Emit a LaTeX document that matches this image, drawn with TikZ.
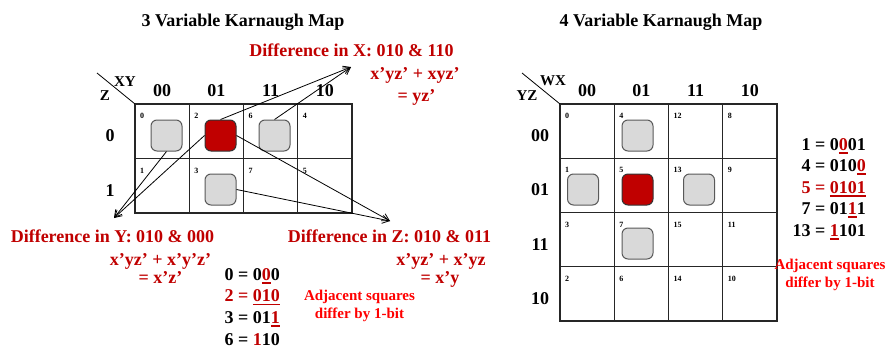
\documentclass[tikz,border=0pt]{standalone}
\usepackage{fontspec}
\setmainfont{Liberation Serif}
\usetikzlibrary{arrows.meta}
\definecolor{kRed}{RGB}{192, 0, 0}
\definecolor{noteRed}{RGB}{255, 0, 0}
\definecolor{boxGray}{RGB}{217, 217, 217}
\definecolor{boxEdge}{RGB}{89, 89, 89}
% red bit with a thick red rule under it
\newcommand{\redbit}[1]{\textcolor{kRed}{\setbox0\hbox{#1}\rlap{\rule[-3.6pt]{\wd0}{1.8pt}}\box0}}

\begin{document}
\begin{tikzpicture}[x=1pt, y=-1pt, >={Straight Barb[length=7pt, width=8pt]},
    maptitle/.style={anchor=base, inner sep=0pt, font=\bfseries\fontsize{18}{21}\selectfont},
    hdr/.style={anchor=base, inner sep=0pt, font=\bfseries\fontsize{18}{21}\selectfont},
    varlbl/.style={anchor=base, inner sep=0pt, font=\bfseries\fontsize{15}{17}\selectfont},
    idx/.style={anchor=base west, inner sep=0pt, font=\bfseries\fontsize{8}{9}\selectfont},
    diff/.style={anchor=base, inner sep=0pt, text=kRed, font=\bfseries\fontsize{18}{21}\selectfont},
    binln/.style={anchor=base east, inner sep=0pt, font=\bfseries\fontsize{18}{21}\selectfont},
    note/.style={align=center, inner sep=0pt, text=noteRed, font=\bfseries\fontsize{15}{17.5}\selectfont},
    gridln/.style={line width=1.3pt, draw=black!85},
    cellbox/.style={draw=boxEdge, fill=boxGray, line width=1pt, rounded corners=6pt,
                    minimum size=31pt, inner sep=0pt},
    hotbox/.style={cellbox, draw=black!80, fill=kRed}]
  \useasboundingbox (0,0) rectangle (890,348);

  % ---- 3 variable map ----
  \node[maptitle] (titleL) at (243,26) {3 Variable Karnaugh Map};
  \draw[gridln] (135,104) rectangle (352,213);
  \foreach \i in {1,2,3}
    \draw[gridln] ({135+54.25*\i},104) -- ++(0,109);
  \draw[gridln] (135,158.5) -- (352,158.5);
  \draw[line width=0.8pt] (97,73) -- (135,104);
  \node[varlbl] (xyL) at (125,86.5) {XY};
  \node[varlbl] (zL) at (105,100.5) {Z};
  \foreach \t [count=\c from 0] in {00,01,11,10}
    \node[hdr] (colL\c) at ({162+54.25*\c},96.5) {\t};
  \node[hdr] (rowL0) at (110,141.5) {0};
  \node[hdr] (rowL1) at (110,196) {1};
  \foreach \n [count=\c from 0] in {0,2,6,4}
    \node[idx] (nL\n) at ({140+54.25*\c},118.5) {\n};
  \foreach \n [count=\c from 0] in {1,3,7,5}
    \node[idx] (nL\n) at ({140+54.25*\c},173.5) {\n};

  \node[cellbox] (lb0) at (166.5,135.5) {};
  \node[hotbox]  (lb2) at (220.5,135.5) {};
  \node[cellbox] (lb6) at (274.5,135.5) {};
  \node[cellbox] (lb3) at (220.5,189.5) {};

  \coordinate (tipX) at (351,67);
  \coordinate (tipY) at (114,218);
  \coordinate (tipZ) at (390,221);
  \draw[->, line width=0.8pt] (lb2.north) -- (tipX);
  \draw[->, line width=0.8pt] (lb6.north) -- (tipX);
  \draw[->, line width=0.8pt] (lb0.south) -- (tipY);
  \draw[->, line width=0.8pt] (lb2.west) -- (tipY);
  \draw[->, line width=0.8pt] (lb2.east) -- (tipZ);
  \draw[->, line width=0.8pt] (lb3.east) -- (tipZ);

  \node[diff] (dX)  at (351.5,56.5) {Difference in X: 010 \& 110};
  \node[diff] (eX)  at (415,79.5)   {x’yz’ + xyz’};
  \node[diff] (rX)  at (416.5,101.5) {= yz’};
  \node[diff] (dY)  at (112.5,242.5) {Difference in Y: 010 \& 000};
  \node[diff] (eY)  at (160.5,265)   {x’yz’ + x’y’z’};
  \node[diff] (rY)  at (160.5,283.5) {= x’z’};
  \node[diff] (dZ)  at (389.5,242)   {Difference in Z: 010 \& 011};
  \node[diff] (eZ)  at (441,265)     {x’yz’ + x’yz};
  \node[diff] (rZ)  at (440,283.5)   {= x’y};

  \node[binln] (bL0) at (280,280)   {0 = 0\redbit{0}0};
  \node[binln, text=kRed] (bL2) at (280,301.7) {2 = \redbit{010}};
  \node[binln] (bL3) at (280,323.3) {3 = 01\redbit{1}};
  \node[binln] (bL6) at (280,345)   {6 = \textcolor{kRed}{1}10};
  \node[note] (adjL) at (359.5,306) {Adjacent squares\\differ by 1-bit};

  % ---- 4 variable map ----
  \node[maptitle] (titleR) at (661,26) {4 Variable Karnaugh Map};
  \draw[gridln] (560,104) rectangle (777,321);
  \foreach \i in {1,2,3} {
    \draw[gridln] ({560+54.25*\i},104) -- ++(0,217);
    \draw[gridln] (560,{104+54.25*\i}) -- ++(217,0);
  }
  \draw[line width=0.8pt] (522,73) -- (560,104);
  \node[varlbl] (wxR) at (553,85.5) {WX};
  \node[varlbl] (yzR) at (527,100.5) {YZ};
  \foreach \t [count=\c from 0] in {00,01,11,10} {
    \node[hdr] (colR\c) at ({587+54.25*\c},96.5) {\t};
    \node[hdr] (rowR\c) at (540,{141.5+54.25*\c}) {\t};
  }
  \foreach \a/\b/\cc/\d [count=\r from 0] in {0/4/12/8, 1/5/13/9, 3/7/15/11, 2/6/14/10} {
    \node[idx] (nR\a)  at (565,{118.5+54.25*\r}) {\a};
    \node[idx] (nR\b)  at (619.25,{118.5+54.25*\r}) {\b};
    \node[idx] (nR\cc) at (673.5,{118.5+54.25*\r}) {\cc};
    \node[idx] (nR\d)  at (727.75,{118.5+54.25*\r}) {\d};
  }

  \node[cellbox] (rb4)  at (637.5,135.5) {};
  \node[cellbox] (rb1)  at (583,189.5) {};
  \node[hotbox]  (rb5)  at (637.5,189.5) {};
  \node[cellbox] (rb13) at (699,189.5) {};
  \node[cellbox] (rb7)  at (637.5,243.5) {};

  \node[binln] (bR1)  at (866,150)   {1 = 0\redbit{0}01};
  \node[binln] (bR4)  at (866,171.5) {4 = 010\redbit{0}};
  \node[binln, text=kRed] (bR5) at (866,193) {5 = \redbit{0101}};
  \node[binln] (bR7)  at (866,214.5) {7 = 01\redbit{1}1};
  \node[binln] (bR13) at (866,236)   {13 = \redbit{1}101};
  \node[note] (adjR) at (830,275) {Adjacent squares\\differ by 1-bit};
\end{tikzpicture}
\end{document}
